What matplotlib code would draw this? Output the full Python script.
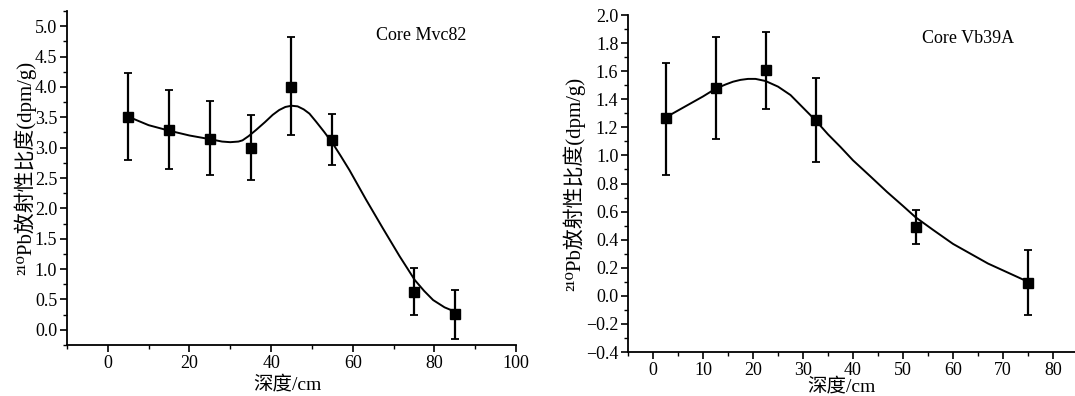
import numpy as np
import matplotlib.pyplot as plt
from matplotlib.ticker import MultipleLocator

plt.rcParams['font.family'] = ['Liberation Serif', 'Noto Sans CJK SC', 'DejaVu Serif']
plt.rcParams['font.size'] = 13

# Core Mvc82
depth_a = [5, 15, 25, 35, 45, 55, 75, 85]
act_a = [3.51, 3.29, 3.15, 2.99, 4.00, 3.12, 0.62, 0.26]
err_hi_a = [4.23, 3.95, 3.76, 3.53, 4.82, 3.55, 1.01, 0.66]
err_lo_a = [2.80, 2.65, 2.55, 2.46, 3.20, 2.71, 0.25, -0.15]
fit_x_a = [5, 10, 15, 20, 25, 28, 30, 32, 33, 34.5, 36.3, 38.5, 40.4, 42, 43.5, 45, 46.5,
           48, 49.4, 51, 53, 55.1, 57, 59.2, 63.3, 67.4, 71.5, 73.5, 75.2, 77.5, 79.7,
           82.5, 85]
fit_y_a = [3.51, 3.37, 3.28, 3.20, 3.14, 3.10, 3.09, 3.10, 3.12, 3.19, 3.29, 3.42, 3.54,
           3.62, 3.67, 3.69, 3.68, 3.63, 3.56, 3.43, 3.26, 3.07, 2.87, 2.63, 2.14, 1.67,
           1.21, 1.00, 0.82, 0.64, 0.49, 0.37, 0.30]

# Core Vb39A
depth_b = [2.5, 12.5, 22.5, 32.5, 52.5, 75]
act_b = [1.27, 1.48, 1.61, 1.25, 0.49, 0.09]
err_hi_b = [1.66, 1.84, 1.88, 1.55, 0.61, 0.33]
err_lo_b = [0.86, 1.12, 1.33, 0.95, 0.37, -0.14]
fit_x_b = [2.5, 5, 7.5, 10, 12.5, 14.5, 16, 17.5, 19, 20.5, 22.5, 25, 27.5, 30, 32.5,
           35, 37.5, 40, 43.5, 46.8, 50, 52.5, 56, 60, 63.5, 67, 71, 75]
fit_y_b = [1.27, 1.32, 1.37, 1.42, 1.475, 1.505, 1.525, 1.538, 1.545, 1.545, 1.53, 1.49,
           1.43, 1.34, 1.25, 1.15, 1.06, 0.965, 0.85, 0.74, 0.64, 0.56, 0.47, 0.37, 0.30,
           0.23, 0.165, 0.10]

ylabel = '²¹⁰Pb放射性比度(dpm/g)'
xlabel = '深度/cm'

fig = plt.figure(figsize=(10.75, 3.96), dpi=100)
ax1 = fig.add_axes([0.0623, 0.1288, 0.4177, 0.8434])
ax2 = fig.add_axes([0.5842, 0.1111, 0.4186, 0.851])


def draw(ax, x, y, hi, lo, fx, fy):
    y = np.array(y)
    yerr = [y - np.array(lo), np.array(hi) - y]
    ax.plot(fx, fy, color='black', lw=1.4, zorder=2)
    ax.errorbar(x, y, yerr=yerr, fmt='s', color='black', ms=6.5, elinewidth=1.6,
                capsize=3, capthick=1.3, zorder=3)
    for s in ['top', 'right']:
        ax.spines[s].set_visible(False)
    for s in ['left', 'bottom']:
        ax.spines[s].set_linewidth(1.3)
    ax.tick_params(which='major', direction='out', length=5, width=1.2, labelsize=13,
                   pad=2)
    ax.tick_params(which='minor', direction='out', length=3, width=1.0)


draw(ax1, depth_a, act_a, err_hi_a, err_lo_a, fit_x_a, fit_y_a)
ax1.set_xlim(-10, 100)
ax1.set_ylim(-0.25, 5.25)
ax1.xaxis.set_major_locator(MultipleLocator(20))
ax1.xaxis.set_minor_locator(MultipleLocator(10))
ax1.yaxis.set_major_locator(MultipleLocator(0.5))
ax1.yaxis.set_minor_locator(MultipleLocator(0.25))
ax1.yaxis.set_major_formatter(lambda v, p: f'{v:.1f}')
ax1.set_xlabel(xlabel, fontsize=14)
ax1.xaxis.set_label_coords(0.49, -0.09)
ax1.set_ylabel(ylabel, fontsize=15)
ax1.yaxis.set_label_coords(-0.068, 0.53)
ax1.text(65.6, 4.85, 'Core Mvc82', fontsize=13, va='center')

draw(ax2, depth_b, act_b, err_hi_b, err_lo_b, fit_x_b, fit_y_b)
ax2.set_xlim(-5, 85)
ax2.set_ylim(-0.4, 2.0)
ax2.xaxis.set_major_locator(MultipleLocator(10))
ax2.xaxis.set_minor_locator(MultipleLocator(5))
ax2.yaxis.set_major_locator(MultipleLocator(0.2))
ax2.yaxis.set_minor_locator(MultipleLocator(0.1))
ax2.yaxis.set_major_formatter(lambda v, p: f'{v:.1f}'.replace('-', '−'))
ax2.set_xlabel(xlabel, fontsize=14)
ax2.xaxis.set_label_coords(0.475, -0.075)
ax2.set_ylabel(ylabel, fontsize=15)
ax2.yaxis.set_label_coords(-0.095, 0.5)
ax2.text(53.7, 1.836, 'Core Vb39A', fontsize=13, va='center')

fig.savefig('out.png', dpi=100)
